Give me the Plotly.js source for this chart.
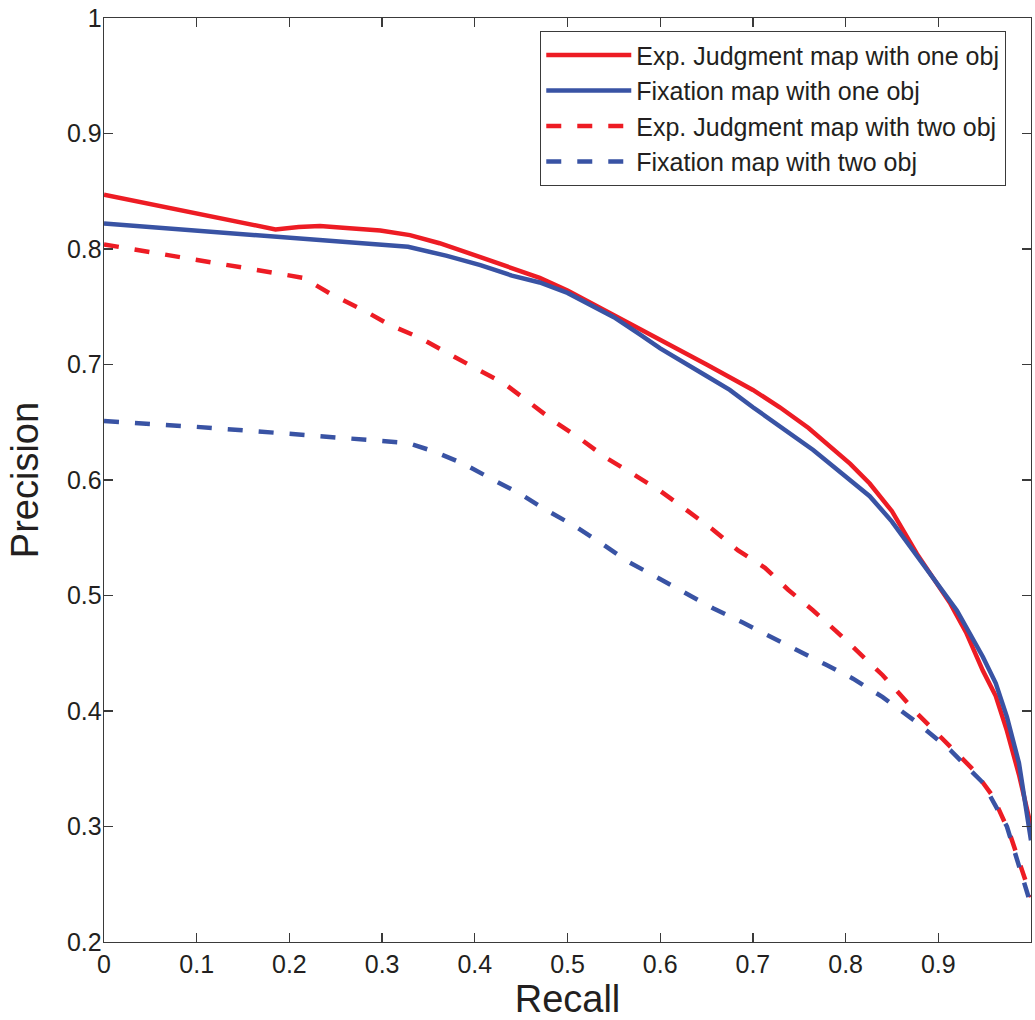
<!DOCTYPE html>
<html>
<head>
<meta charset="utf-8">
<script src="https://cdn.plot.ly/plotly-3.0.1.min.js"></script>
<style>
  html, body { margin: 0; padding: 0; background: #fff; }
  #chart { width: 1035px; height: 1020px; }
</style>
</head>
<body>
<div id="chart"></div>
<script>
// Series names
const seriesNames = [
  "Exp. Judgment map with one obj",
  "Fixation map with one obj",
  "Exp. Judgment map with two obj",
  "Fixation map with two obj"
];

// Exp. Judgment map with one obj (red solid)
const expOneRecall = [0, 0.05, 0.1, 0.15, 0.185, 0.21, 0.233, 0.265, 0.298, 0.33, 0.362, 0.406, 0.44, 0.47, 0.5, 0.55, 0.6, 0.65, 0.7, 0.729, 0.76, 0.783, 0.805, 0.826, 0.85, 0.877, 0.9, 0.913, 0.93, 0.948, 0.962, 0.974, 0.987, 1.0];
const expOnePrecision = [0.847, 0.839, 0.831, 0.823, 0.817, 0.819, 0.820, 0.818, 0.816, 0.812, 0.805, 0.793, 0.783, 0.775, 0.764, 0.743, 0.722, 0.700, 0.678, 0.663, 0.645, 0.629, 0.614, 0.597, 0.573, 0.536, 0.508, 0.493, 0.468, 0.435, 0.413, 0.383, 0.345, 0.300];

// Fixation map with one obj (blue solid)
const fixOneRecall = [0, 0.05, 0.1, 0.15, 0.184, 0.25, 0.328, 0.37, 0.406, 0.44, 0.47, 0.5, 0.55, 0.578, 0.6, 0.65, 0.675, 0.7, 0.729, 0.765, 0.8, 0.826, 0.85, 0.877, 0.9, 0.92, 0.948, 0.962, 0.974, 0.987, 1.0];
const fixOnePrecision = [0.822, 0.819, 0.816, 0.813, 0.811, 0.807, 0.802, 0.794, 0.786, 0.777, 0.771, 0.762, 0.741, 0.726, 0.714, 0.690, 0.678, 0.663, 0.646, 0.626, 0.603, 0.586, 0.564, 0.534, 0.508, 0.487, 0.447, 0.424, 0.395, 0.355, 0.288];

// Exp. Judgment map with two obj (red dashed)
const expTwoRecall = [0, 0.1, 0.186, 0.215, 0.247, 0.28, 0.309, 0.341, 0.37, 0.4, 0.431, 0.46, 0.487, 0.515, 0.542, 0.573, 0.601, 0.63, 0.657, 0.684, 0.713, 0.738, 0.765, 0.79, 0.814, 0.84, 0.877, 0.905, 0.938, 0.959, 0.977, 1.0];
const expTwoPrecision = [0.804, 0.791, 0.779, 0.775, 0.760, 0.747, 0.734, 0.723, 0.710, 0.697, 0.684, 0.666, 0.650, 0.635, 0.619, 0.604, 0.590, 0.573, 0.557, 0.539, 0.524, 0.505, 0.487, 0.469, 0.451, 0.431, 0.398, 0.375, 0.349, 0.326, 0.294, 0.239];

// Fixation map with two obj (blue dashed)
const fixTwoRecall = [0, 0.1, 0.2, 0.25, 0.328, 0.355, 0.388, 0.418, 0.449, 0.477, 0.508, 0.537, 0.566, 0.596, 0.627, 0.657, 0.688, 0.718, 0.749, 0.779, 0.808, 0.84, 0.877, 0.913, 0.948, 0.974, 1.0];
const fixTwoPrecision = [0.651, 0.646, 0.640, 0.637, 0.632, 0.625, 0.614, 0.601, 0.588, 0.574, 0.560, 0.545, 0.529, 0.516, 0.502, 0.489, 0.477, 0.465, 0.453, 0.440, 0.428, 0.412, 0.390, 0.366, 0.338, 0.300, 0.232];

// Tick labels
const xTickVals = [0, 0.1, 0.2, 0.3, 0.4, 0.5, 0.6, 0.7, 0.8, 0.9, 1];
const xTickText = ["0", "0.1", "0.2", "0.3", "0.4", "0.5", "0.6", "0.7", "0.8", "0.9", "1"];
const yTickVals = [0.2, 0.3, 0.4, 0.5, 0.6, 0.7, 0.8, 0.9, 1];
const yTickText = ["0.2", "0.3", "0.4", "0.5", "0.6", "0.7", "0.8", "0.9", "1"];

const RED = "#ED1C24";
const BLUE = "#3953A4";
const DASH = "15px,16px";
const LW = 4.5;
const FONT = "'Liberation Sans', Arial, Helvetica, sans-serif";
const INK = "#231F20";

const traces = [
  { x: expOneRecall, y: expOnePrecision, name: seriesNames[0], mode: "lines", line: { color: RED, width: LW } },
  { x: fixOneRecall, y: fixOnePrecision, name: seriesNames[1], mode: "lines", line: { color: BLUE, width: LW } },
  { x: expTwoRecall, y: expTwoPrecision, name: seriesNames[2], mode: "lines", line: { color: RED, width: LW, dash: DASH } },
  { x: fixTwoRecall, y: fixTwoPrecision, name: seriesNames[3], mode: "lines", line: { color: BLUE, width: LW, dash: DASH } }
];

const axisCommon = {
  showgrid: false,
  zeroline: false,
  showline: true,
  linecolor: "#3A3A3A",
  linewidth: 1.3,
  mirror: "ticks",
  ticks: "inside",
  ticklen: 9,
  tickwidth: 1.3,
  tickcolor: "#3A3A3A",
  tickfont: { family: FONT, size: 25, color: INK },
  tickmode: "array"
};

const layout = {
  width: 1035,
  height: 1020,
  margin: { l: 104, r: 4, t: 18, b: 78 },
  paper_bgcolor: "#ffffff",
  plot_bgcolor: "#ffffff",
  font: { family: FONT, color: INK },
  showlegend: true,
  legend: {
    x: 0.973, xanchor: "right",
    y: 0.986, yanchor: "top",
    bgcolor: "#ffffff",
    bordercolor: "#3A3A3A",
    borderwidth: 1.3,
    font: { family: FONT, size: 25, color: INK },
    itemwidth: 85,
    tracegroupgap: 0
  },
  xaxis: Object.assign({}, axisCommon, {
    range: [0, 1],
    tickvals: xTickVals,
    ticktext: xTickText,
    title: { text: "Recall", font: { family: FONT, size: 38, color: INK }, standoff: 6 }
  }),
  yaxis: Object.assign({}, axisCommon, {
    range: [0.2, 1],
    tickvals: yTickVals,
    ticktext: yTickText,
    ticklabelstandoff: -4,
    title: { text: "Precision", font: { family: FONT, size: 38, color: INK }, standoff: 16 }
  })
};

Plotly.newPlot("chart", traces, layout, { staticPlot: true, displayModeBar: false });
</script>
</body>
</html>
